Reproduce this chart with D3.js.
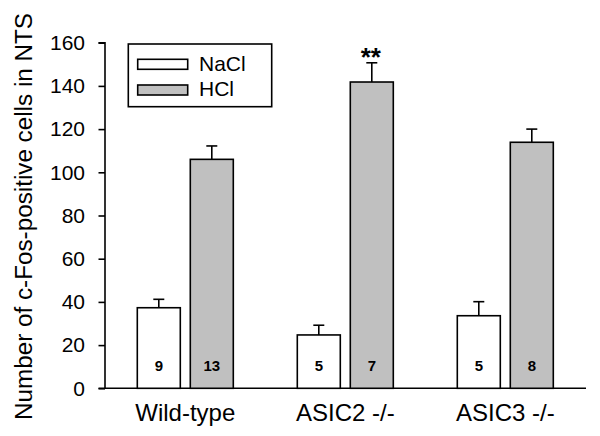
<!DOCTYPE html>
<html><head><meta charset="utf-8">
<script src="https://cdn.jsdelivr.net/npm/d3@7"></script>
<style>body{margin:0;background:#fff}svg{display:block;font-family:"Liberation Sans",Arial,sans-serif}</style>
</head><body><svg id="c" width="600" height="436"></svg>
<script>
const categories = ["Wild-type", "ASIC2 -/-", "ASIC3 -/-"];
const seriesNames = ["NaCl", "HCl"];
const naclMean = [37.3, 24.7, 33.6];
const naclErr = [3.9, 4.5, 6.5];
const hclMean = [106, 141.8, 113.9];
const hclErr = [6.2, 8.9, 6.1];
const naclN = ["9", "5", "5"];
const hclN = ["13", "7", "8"];
const signif = ["", "**", ""];
const yTicks = [0, 20, 40, 60, 80, 100, 120, 140, 160];

const svg = d3.select("#c");
const y = d3.scaleLinear().domain([0, 160]).range([388.3, 42.7]);
const x0 = d3.scaleBand().domain(categories).range([105.3, 585.3]).padding(0);
const barW = 43, gap = 10;
const groupX = d => x0(d) + (x0.bandwidth() - (2*barW+gap))/2;
const fills = ["#ffffff", "#c0c0c0"];

// y axis
const yAxis = d3.axisLeft(y).tickValues(yTicks).tickSize(6.5).tickPadding(13.5);
const gy = svg.append("g").attr("transform", "translate(105,0)").call(yAxis);
gy.select(".domain").attr("stroke", "#000").attr("stroke-width", 1.6).attr("d", `M-6.5,${y(160)}H0V${y(0)}`);
gy.selectAll(".tick line").attr("stroke", "#000").attr("stroke-width", 1.6);
gy.selectAll(".tick text").attr("font-size", 21).attr("fill", "#000").attr("font-family", "Liberation Sans, Arial, sans-serif");

// x axis baseline
svg.append("line").attr("x1", 98.5).attr("x2", 586).attr("y1", y(0)).attr("y2", y(0)).attr("stroke", "#000").attr("stroke-width", 1.6);

const data = categories.map((c, i) => ({c, vals: [
  {s: 0, m: naclMean[i], e: naclErr[i], n: naclN[i]},
  {s: 1, m: hclMean[i], e: hclErr[i], n: hclN[i]}], sig: signif[i]}));

const g = svg.append("g");
data.forEach(d => {
  const gx = groupX(d.c);
  d.vals.forEach(v => {
    const bx = gx + v.s * (barW + gap);
    const cx = bx + barW/2;
    g.append("line").attr("x1", cx).attr("x2", cx).attr("y1", y(v.m)).attr("y2", y(v.m + v.e)).attr("stroke", "#000").attr("stroke-width", 1.6);
    g.append("line").attr("x1", cx - 5.5).attr("x2", cx + 5.5).attr("y1", y(v.m + v.e)).attr("y2", y(v.m + v.e)).attr("stroke", "#000").attr("stroke-width", 1.6);
    g.append("rect").attr("x", bx).attr("y", y(v.m)).attr("width", barW).attr("height", y(0) - y(v.m))
      .attr("fill", fills[v.s]).attr("stroke", "#000").attr("stroke-width", 1.6);
    g.append("text").attr("x", cx).attr("y", 370.5).attr("text-anchor", "middle").attr("font-size", 15).attr("font-weight", "bold").text(v.n);
  });
  if (d.sig) {
    const v = d.vals[1];
    const cx = gx + barW + gap + barW/2;
    g.append("text").attr("x", cx - 1).attr("y", y(v.m + v.e) + 3).attr("text-anchor", "middle").attr("font-size", 26).attr("font-weight", "bold").text(d.sig);
  }
  svg.append("text").attr("x", gx + barW + gap/2).attr("y", 421).attr("text-anchor", "middle").attr("font-size", 24).text(d.c);
});

// y label
svg.append("text").attr("transform", "translate(31.5,216.5) rotate(-90)").attr("text-anchor", "middle").attr("font-size", 23.5)
  .attr("textLength", 407).attr("lengthAdjust", "spacingAndGlyphs").text("Number of c-Fos-positive cells in NTS");

// legend
const lg = svg.append("g");
lg.append("rect").attr("x", 128.3).attr("y", 44).attr("width", 143.4).attr("height", 62.7).attr("fill", "#fff").attr("stroke", "#000").attr("stroke-width", 1.6);
seriesNames.forEach((s, i) => {
  const yy = 59.3 + i * 25.7;
  lg.append("rect").attr("x", 137.7).attr("y", yy).attr("width", 50).attr("height", 10).attr("fill", fills[i]).attr("stroke", "#000").attr("stroke-width", 1.6);
  lg.append("text").attr("x", 199).attr("y", yy + 11.4).attr("font-size", 21).text(s);
});
</script></body></html>
